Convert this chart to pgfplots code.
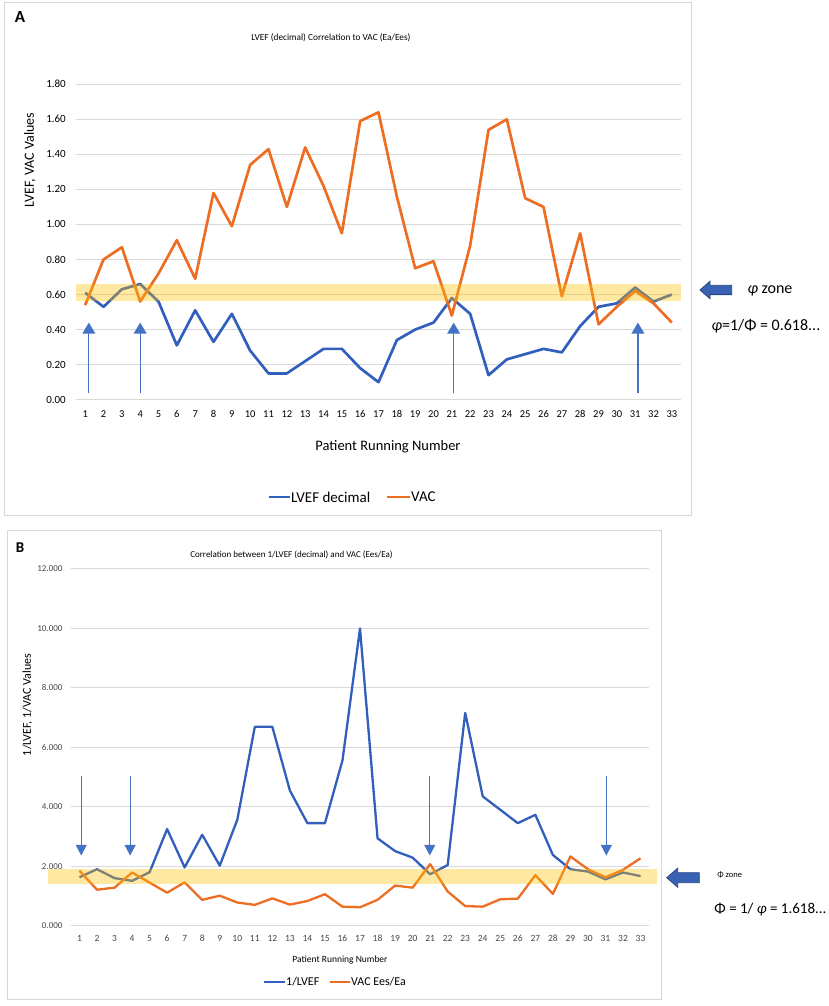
\documentclass[border=0pt]{standalone}
\usepackage{fontspec}
\setmainfont{Carlito}
\usepackage{pgfplots}
\usepackage{pgfplotstable}
\pgfplotsset{compat=1.18}
\usetikzlibrary{arrows.meta}

\definecolor{cblue}{RGB}{50,95,190}
\definecolor{corange}{RGB}{237,110,35}
\definecolor{cgold}{RGB}{255,192,0}
\definecolor{cgrid}{RGB}{217,217,217}
\definecolor{carrow}{RGB}{68,114,196}
\definecolor{cframe}{RGB}{215,215,215}
\definecolor{cblock}{RGB}{58,98,180}
\definecolor{cblockd}{RGB}{40,70,130}
\definecolor{ctick}{RGB}{70,70,70}

\newcommand{\fs}[1]{\fontsize{#1bp}{#1bp}\selectfont}

\pgfplotstableread{
x lvef vac
1 0.61 0.54
2 0.53 0.80
3 0.63 0.87
4 0.66 0.56
5 0.56 0.72
6 0.31 0.91
7 0.51 0.69
8 0.33 1.18
9 0.49 0.99
10 0.28 1.34
11 0.15 1.43
12 0.15 1.10
13 0.22 1.44
14 0.29 1.22
15 0.29 0.95
16 0.18 1.59
17 0.10 1.64
18 0.34 1.16
19 0.40 0.75
20 0.44 0.79
21 0.58 0.48
22 0.49 0.88
23 0.14 1.54
24 0.23 1.60
25 0.26 1.15
26 0.29 1.10
27 0.27 0.59
28 0.42 0.95
29 0.53 0.43
30 0.55 0.53
31 0.64 0.62
32 0.56 0.55
33 0.60 0.44
}\dataA

\pgfplotstableread{
x inv vac
1 1.63 1.85
2 1.90 1.21
3 1.60 1.28
4 1.51 1.79
5 1.80 1.45
6 3.25 1.11
7 1.96 1.46
8 3.06 0.87
9 2.02 1.01
10 3.56 0.78
11 6.69 0.70
12 6.69 0.92
13 4.55 0.71
14 3.45 0.83
15 3.45 1.06
16 5.56 0.64
17 10.0 0.62
18 2.94 0.87
19 2.51 1.35
20 2.29 1.28
21 1.73 2.07
22 2.04 1.15
23 7.16 0.66
24 4.35 0.64
25 3.90 0.89
26 3.45 0.91
27 3.73 1.70
28 2.38 1.07
29 1.90 2.33
30 1.82 1.90
31 1.56 1.63
32 1.79 1.88
33 1.67 2.27
}\dataB

\begin{document}
\begin{tikzpicture}[x=1bp,y=1bp]
\useasboundingbox (0,0) rectangle (829,1006);
% frames
\draw[cframe, line width=1bp] (4.5,490) rectangle (691.7,1003);
\draw[cframe, line width=1bp] (7.4,6) rectangle (661,475.3);

% ---------------- Panel A ----------------
\begin{axis}[
  at={(76bp,606.3bp)}, anchor=south west,
  scale only axis, width=605bp, height=315.4bp,
  xmin=0.5, xmax=33.5, ymin=0, ymax=1.8,
  axis line style={draw=none}, tick style={draw=none},
  ymajorgrids, grid style={cgrid, line width=1bp},
  xtick={1,...,33}, ytick={0,0.2,0.4,0.6,0.8,1,1.2,1.4,1.6,1.8},
  /pgf/number format/assume math mode=true,
  yticklabel style={font=\fs{11}, anchor=east, inner sep=0pt, xshift=-10bp,
    /pgf/number format/fixed, /pgf/number format/fixed zerofill, /pgf/number format/precision=2},
  xticklabel style={font=\fs{10.5}, anchor=base, inner sep=0pt, yshift=-18bp},
  clip=false,
]
\addplot[cblue, line width=2.7bp, line join=round] table[x=x,y=lvef]{\dataA};
\addplot[corange, line width=2.7bp, line join=round] table[x=x,y=vac]{\dataA};
\fill[cgold, opacity=0.37] (axis cs:0.5,0.565) rectangle (axis cs:33.5,0.66);
\draw[carrow, line width=1.3bp, -{Triangle[width=12.7bp,length=11bp]}] (axis cs:1.2,0.036) -- (axis cs:1.2,0.44);
\draw[carrow, line width=1.3bp, -{Triangle[width=12.7bp,length=11bp]}] (axis cs:4,0.036) -- (axis cs:4,0.44);
\draw[carrow, line width=1.3bp, -{Triangle[width=12.7bp,length=11bp]}] (axis cs:21.1,0.036) -- (axis cs:21.1,0.44);
\draw[carrow, line width=1.3bp, -{Triangle[width=12.7bp,length=11bp]}] (axis cs:31.15,0.036) -- (axis cs:31.15,0.44);
\end{axis}

\node[font=\fs{17}\bfseries] at (20,989) {A};
\node[font=\fs{9.3}] at (331,968) {LVEF (decimal) Correlation to VAC (Ea/Ees)};
\node[rotate=90, font=\fs{14}] at (30,846) {LVEF, VAC Values};
\node[font=\fs{14.5}] at (388,559) {Patient Running Number};
\draw[cblue, line width=2.7bp] (268.6,509) -- (290,509);
\node[anchor=west, inner sep=1bp, font=\fs{15}] at (290,509) {LVEF decimal};
\draw[corange, line width=2.7bp] (387,509) -- (410,509);
\node[anchor=west, inner sep=1bp, font=\fs{15}] at (410,509) {VAC};

\filldraw[fill=cblock, draw=cblockd, line width=0.8bp]
  (731.7,711.35) -- (710,711.35) -- (710,707.2) -- (700,716) -- (710,724.8) -- (710,720.65) -- (731.7,720.65) -- cycle;
\node[font=\fs{16}] at (770,715) {\textit{φ} zone};
\node[font=\fs{16}] at (766,680) {\textit{φ}=1/Φ = 0.618...};

% ---------------- Panel B ----------------
\begin{axis}[
  at={(70.7bp,80.3bp)}, anchor=south west,
  scale only axis, width=578.6bp, height=356.7bp,
  xmin=0.5, xmax=33.5, ymin=0, ymax=12,
  axis line style={draw=none}, tick style={draw=none},
  ymajorgrids, grid style={cgrid, line width=1bp},
  xtick={1,...,33}, ytick={0,2,4,6,8,10,12},
  /pgf/number format/assume math mode=true,
  yticklabel style={font=\fs{9}, text=ctick, anchor=east, inner sep=0pt, xshift=-8bp,
    /pgf/number format/fixed, /pgf/number format/fixed zerofill, /pgf/number format/precision=3},
  xticklabel style={font=\fs{9.5}, text=ctick, anchor=base, inner sep=0pt, yshift=-15.5bp},
  clip=false,
]
\addplot[cblue, line width=2.3bp, line join=round] table[x=x,y=inv]{\dataB};
\addplot[corange, line width=2.3bp, line join=round] table[x=x,y=vac]{\dataB};
\fill[cgold, opacity=0.37] (axis cs:-0.82,1.39) rectangle (axis cs:33.93,1.90);
\draw[carrow, line width=1.2bp, -{Triangle[width=11bp,length=10.7bp]}] (axis cs:1.1,5.02) -- (axis cs:1.1,2.36);
\draw[carrow, line width=1.2bp, -{Triangle[width=11bp,length=10.7bp]}] (axis cs:3.89,5.02) -- (axis cs:3.89,2.36);
\draw[carrow, line width=1.2bp, -{Triangle[width=11bp,length=10.7bp]}] (axis cs:20.98,5.02) -- (axis cs:20.98,2.36);
\draw[carrow, line width=1.2bp, -{Triangle[width=11bp,length=10.7bp]}] (axis cs:31.05,5.02) -- (axis cs:31.05,2.36);
\end{axis}

\node[font=\fs{15}\bfseries] at (20,458) {B};
\node[font=\fs{9}] at (291.5,451) {Correlation between 1/LVEF (decimal) and VAC (Ees/Ea)};
\node[rotate=90, font=\fs{12}] at (27.5,301) {1/LVEF, 1/VAC Values};
\node[font=\fs{9.5}] at (340,46) {Patient Running Number};
\draw[cblue, line width=2.3bp] (264,24) -- (285,24);
\node[anchor=west, inner sep=1bp, font=\fs{12}] at (285,24) {1/LVEF};
\draw[corange, line width=2.3bp] (330,24) -- (350,24);
\node[anchor=west, inner sep=1bp, font=\fs{12}] at (350,24) {VAC Ees/Ea};

\filldraw[fill=cblock, draw=cblockd, line width=0.8bp]
  (699.3,123.3) -- (677.7,123.3) -- (677.7,118.8) -- (666.7,128.3) -- (677.7,137.8) -- (677.7,133.3) -- (699.3,133.3) -- cycle;
\node[font=\fs{8.5}] at (729.7,131) {Φ zone};
\node[font=\fs{15}] at (770.5,96) {Φ = 1/ \textit{φ} = 1.618...};
\end{tikzpicture}
\end{document}
